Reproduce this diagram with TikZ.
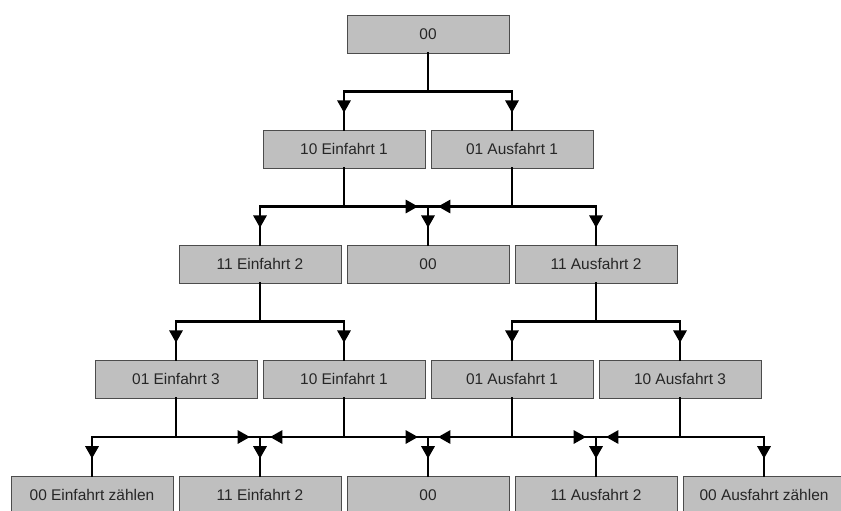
\documentclass[tikz,border=0pt]{standalone}
\usepackage{fontspec}
\setmainfont{Liberation Sans}
\usetikzlibrary{arrows.meta,decorations.markings}

\tikzset{
	state/.style={draw=black!70, line width=0.7pt, fill=black!25, minimum width=4.05cm, minimum height=0.95cm, inner sep=0pt, font=\fontsize{11}{13}\selectfont, text=black!85},
	link/.style={line width=1.8pt, line cap=rect},
	feed/.style={link, postaction={decorate}, decoration={markings, mark=at position 0.56 with {\arrow{Triangle[length=3.1mm,width=3.3mm]}}}},
	merge/.style={link, postaction={decorate}, decoration={markings, mark=at position -0.25cm with {\arrow{Triangle[length=3.1mm,width=3.3mm]}}}},
}

\begin{document}
\begin{tikzpicture}
	\path[use as bounding box, clip] (0,0) rectangle (21.025,-12.75);
	
	\node[state] (top) at (10.7,-0.85) {00};
	\node[state] (ein1) at (8.6,-3.725) {10 Einfahrt 1};
	\node[state] (aus1) at (12.8,-3.725) {01 Ausfahrt 1};
	\node[state] (ein2) at (6.5,-6.6) {11 Einfahrt 2};
	\node[state] (null) at (10.7,-6.6) {00};
	\node[state] (aus2) at (14.9,-6.6) {11 Ausfahrt 2};
	\node[state] (ein3) at (4.4,-9.475) {01 Einfahrt 3};
	\node[state] (ein1b) at (8.6,-9.475) {10 Einfahrt 1};
	\node[state] (aus1b) at (12.8,-9.475) {01 Ausfahrt 1};
	\node[state] (aus3) at (17.0,-9.475) {10 Ausfahrt 3};
	\node[state] (einz) at (2.3,-12.375) {00 Einfahrt zählen};
	\node[state] (ein2b) at (6.5,-12.375) {11 Einfahrt 2};
	\node[state] (nullb) at (10.7,-12.375) {00};
	\node[state] (aus2b) at (14.9,-12.375) {11 Ausfahrt 2};
	\node[state] (ausz) at (19.1,-12.375) {00 Ausfahrt zählen};
	
	\coordinate (j1a) at (8.6,-2.2875);
	\coordinate (j1b) at (12.8,-2.2875);
	\coordinate (j2a) at (6.5,-5.1625);
	\coordinate (j2b) at (10.7,-5.1625);
	\coordinate (j2c) at (14.9,-5.1625);
	\coordinate (j3a) at (4.4,-8.0375);
	\coordinate (j3b) at (8.6,-8.0375);
	\coordinate (j3c) at (12.8,-8.0375);
	\coordinate (j3d) at (17.0,-8.0375);
	\coordinate (j4a) at (2.3,-10.925);
	\coordinate (j4b) at (6.5,-10.925);
	\coordinate (j4c) at (10.7,-10.925);
	\coordinate (j4d) at (14.9,-10.925);
	\coordinate (j4e) at (19.1,-10.925);
	
	\draw[link] (top) |- (j1a);
	\draw[link] (top) |- (j1b);
	\draw[feed] (j1a) -- (ein1);
	\draw[feed] (j1b) -- (aus1);
	
	\draw[link] (ein1) |- (j2a);
	\draw[merge] (ein1) |- (j2b);
	\draw[merge] (aus1) |- (j2b);
	\draw[link] (aus1) |- (j2c);
	\draw[feed] (j2a) -- (ein2);
	\draw[feed] (j2b) -- (null);
	\draw[feed] (j2c) -- (aus2);
	
	\draw[link] (ein2) |- (j3a);
	\draw[link] (ein2) |- (j3b);
	\draw[link] (aus2) |- (j3c);
	\draw[link] (aus2) |- (j3d);
	\draw[feed] (j3a) -- (ein3);
	\draw[feed] (j3b) -- (ein1b);
	\draw[feed] (j3c) -- (aus1b);
	\draw[feed] (j3d) -- (aus3);
	
	\draw[link] (ein3) |- (j4a);
	\draw[merge] (ein3) |- (j4b);
	\draw[merge] (ein1b) |- (j4b);
	\draw[merge] (ein1b) |- (j4c);
	\draw[merge] (aus1b) |- (j4c);
	\draw[merge] (aus1b) |- (j4d);
	\draw[merge] (aus3) |- (j4d);
	\draw[link] (aus3) |- (j4e);
	\draw[feed] (j4a) -- (einz);
	\draw[feed] (j4b) -- (ein2b);
	\draw[feed] (j4c) -- (nullb);
	\draw[feed] (j4d) -- (aus2b);
	\draw[feed] (j4e) -- (ausz);
\end{tikzpicture}
\end{document}
